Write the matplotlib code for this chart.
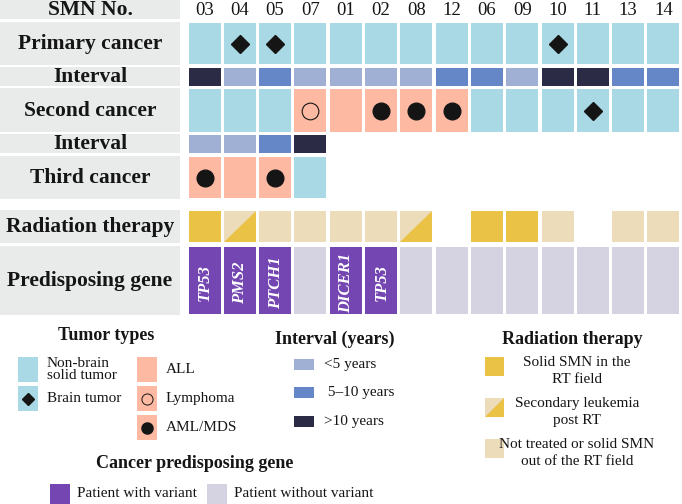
import matplotlib
matplotlib.use("Agg")
import matplotlib.pyplot as plt
from matplotlib.patches import Rectangle, Polygon

plt.rcParams['font.family'] = ['Liberation Serif', 'DejaVu Serif']

# ---------------- data ----------------
smn = ['03', '04', '05', '07', '01', '02', '08', '12', '06', '09', '10', '11', '13', '14']
primary = ['solid', 'brain', 'brain', 'solid', 'solid', 'solid', 'solid', 'solid',
           'solid', 'solid', 'brain', 'solid', 'solid', 'solid']
interval1 = ['>10', '<5', '5-10', '<5', '<5', '<5', '<5', '5-10', '5-10', '<5',
             '>10', '>10', '5-10', '5-10']
second = ['solid', 'solid', 'solid', 'lymphoma', 'ALL', 'AML', 'AML', 'AML',
          'solid', 'solid', 'solid', 'brain', 'solid', 'solid']
interval2 = ['<5', '<5', '5-10', '>10', None, None, None, None, None, None, None, None, None, None]
third = ['AML', 'ALL', 'AML', 'solid', None, None, None, None, None, None, None, None, None, None]
radiation = ['in', 'split', 'out', 'out', 'out', 'out', 'split', None,
             'in', 'in', 'out', None, 'out', 'out']
gene = ['TP53', 'PMS2', 'PTCH1', None, 'DICER1', 'TP53', None, None,
        None, None, None, None, None, None]

# ---------------- styles ----------------
C_SOLID = '#a8d9e5'
C_HEME = '#fdb9a1'
C_INT = {'<5': '#a0afd4', '5-10': '#6687c7', '>10': '#2c2b46'}
C_RT_IN = '#eac246'
C_RT_OUT = '#ecdcb9'
C_GENE = '#7446b1'
C_NOGENE = '#d5d2e1'
C_LABEL = '#e9eaea'
C_TXT = '#151515'

fig = plt.figure(figsize=(6.82, 5.04), dpi=100)
ax = fig.add_axes([0, 0, 1, 1])
ax.set_xlim(0, 682)
ax.set_ylim(504, 0)
ax.axis('off')

X0 = 188.5
PITCH = 35.3
CW = 32.0


def colx(i):
    return X0 + i * PITCH


# rows: (label, top, bottom) in layout px
rows = {
    'head': ('SMN No.', 0, 19),
    'prim': ('Primary cancer', 23, 64),
    'int1': ('Interval', 68, 86),
    'sec': ('Second cancer', 89, 132),
    'int2': ('Interval', 135, 153),
    'third': ('Third cancer', 157, 198),
    'rt': ('Radiation therapy', 211, 242),
    'gene': ('Predisposing gene', 247, 314),
}
label_bands = {
    'head': (0, 19), 'prim': (22, 65), 'int1': (67, 86), 'sec': (88, 132),
    'int2': (134, 153), 'third': (156, 199), 'rt': (210, 243), 'gene': (246, 315),
}

for key, (lab, t, b) in rows.items():
    lt, lb = label_bands[key]
    ax.add_patch(Rectangle((0, lt), 180, lb - lt, facecolor=C_LABEL, edgecolor='none'))
    ax.text(90, (lt + lb) / 2 + 0.5, lab, ha='center', va='center', fontsize=15.5,
            fontweight='bold', color=C_TXT)

for i, s in enumerate(smn):
    ax.text(colx(i) + CW / 2, 10.5, s, ha='center', va='center', fontsize=13.5, color=C_TXT)


def marker(x, y, kind):
    if kind == 'brain':
        ax.plot(x, y, marker='D', ms=9, color=C_TXT, mec=C_TXT)
    elif kind == 'AML':
        ax.plot(x, y, marker='o', ms=12, color=C_TXT, mec=C_TXT)
    elif kind == 'lymphoma':
        ax.plot(x, y, marker='o', ms=12, mfc='none', mec=C_TXT, mew=0.8)


def tumor_cell(i, key, kind):
    if kind is None:
        return
    _, t, b = rows[key]
    col = C_SOLID if kind in ('solid', 'brain') else C_HEME
    x = colx(i)
    ax.add_patch(Rectangle((x, t), CW, b - t, facecolor=col, edgecolor='none'))
    marker(x + CW / 2, (t + b) / 2, kind)


def interval_cell(i, key, kind):
    if kind is None:
        return
    _, t, b = rows[key]
    ax.add_patch(Rectangle((colx(i), t), CW, b - t, facecolor=C_INT[kind], edgecolor='none'))


for i in range(len(smn)):
    tumor_cell(i, 'prim', primary[i])
    interval_cell(i, 'int1', interval1[i])
    tumor_cell(i, 'sec', second[i])
    interval_cell(i, 'int2', interval2[i])
    tumor_cell(i, 'third', third[i])

    _, t, b = rows['rt']
    x = colx(i)
    r = radiation[i]
    if r == 'in':
        ax.add_patch(Rectangle((x, t), CW, b - t, facecolor=C_RT_IN, edgecolor='none'))
    elif r == 'out':
        ax.add_patch(Rectangle((x, t), CW, b - t, facecolor=C_RT_OUT, edgecolor='none'))
    elif r == 'split':
        ax.add_patch(Rectangle((x, t), CW, b - t, facecolor=C_RT_OUT, edgecolor='none'))
        ax.add_patch(Polygon([(x, b), (x + CW, b), (x + CW, t)], closed=True,
                             facecolor=C_RT_IN, edgecolor='none'))

    _, t, b = rows['gene']
    g = gene[i]
    ax.add_patch(Rectangle((x, t), CW, b - t, facecolor=C_GENE if g else C_NOGENE,
                           edgecolor='none'))
    if g:
        ax.text(x + CW / 2 + 0.5, (t + b) / 2 + 2, g, rotation=90, ha='center', va='center',
                fontsize=12, fontweight='bold', fontstyle='italic', color='white')

# ---------------- legends ----------------
LT = 11
TT = 13

# Tumor types
ax.text(106, 336, 'Tumor types', ha='center', va='center', fontsize=TT, fontweight='bold', color=C_TXT)
tumor_leg = [
    (18, 357, C_SOLID, None, 'Non-brain\nsolid tumor'),
    (18, 386, C_SOLID, 'brain', 'Brain tumor'),
    (137, 357, C_HEME, None, 'ALL'),
    (137, 386, C_HEME, 'lymphoma', 'Lymphoma'),
    (137, 415, C_HEME, 'AML', 'AML/MDS'),
]
for x, y, c, m, lab in tumor_leg:
    ax.add_patch(Rectangle((x, y), 19.5, 25, facecolor=c, edgecolor='none'))
    if m == 'brain':
        ax.plot(x + 9.75, y + 12.5, marker='D', ms=6, color=C_TXT)
    elif m == 'AML':
        ax.plot(x + 9.75, y + 12.5, marker='o', ms=8, color=C_TXT)
    elif m == 'lymphoma':
        ax.plot(x + 9.75, y + 12.5, marker='o', ms=8, mfc='none', mec=C_TXT, mew=0.7)
    ax.text(x + 29, y + 12.5, lab, ha='left', va='center', fontsize=LT, color=C_TXT,
            linespacing=0.95)

# Interval
ax.text(335, 339, 'Interval (years)', ha='center', va='center', fontsize=TT, fontweight='bold', color=C_TXT)
int_leg = [('<5', 359, '<5 years'), ('5-10', 387, ' 5\u201310 years'), ('>10', 416, '>10 years')]
for k, y, lab in int_leg:
    ax.add_patch(Rectangle((294, y), 19.5, 10.5, facecolor=C_INT[k], edgecolor='none'))
    ax.text(324, y + 5.5, lab, ha='left', va='center', fontsize=LT, color=C_TXT)

# Radiation therapy
ax.text(572, 339, 'Radiation therapy', ha='center', va='center', fontsize=TT, fontweight='bold', color=C_TXT)
rt_leg = [('in', 357, 'Solid SMN in the\nRT field', 371),
          ('split', 398, 'Secondary leukemia\npost RT', 412),
          ('out', 439, 'Not treated or solid SMN\nout of the RT field', 453)]
for k, y, lab, ty in rt_leg:
    x = 485
    if k == 'in':
        ax.add_patch(Rectangle((x, y), 19, 18.5, facecolor=C_RT_IN, edgecolor='none'))
    elif k == 'out':
        ax.add_patch(Rectangle((x, y), 19, 18.5, facecolor=C_RT_OUT, edgecolor='none'))
    else:
        ax.add_patch(Rectangle((x, y), 19, 18.5, facecolor=C_RT_OUT, edgecolor='none'))
        ax.add_patch(Polygon([(x, y + 18.5), (x + 19, y + 18.5), (x + 19, y)], closed=True,
                             facecolor=C_RT_IN, edgecolor='none'))
    ax.text(577, ty, lab, ha='center', va='center', fontsize=LT, color=C_TXT, linespacing=1.45)

# Cancer predisposing gene
ax.text(195, 464, 'Cancer predisposing gene', ha='center', va='center', fontsize=TT, fontweight='bold', color=C_TXT)
for x, c, lab in [(50, C_GENE, 'Patient with variant'), (207, C_NOGENE, 'Patient without variant')]:
    ax.add_patch(Rectangle((x, 484), 19.5, 22, facecolor=c, edgecolor='none'))
    ax.text(x + 27, 493.5, lab, ha='left', va='center', fontsize=LT, color=C_TXT)

fig.savefig('out.png', dpi=100)
